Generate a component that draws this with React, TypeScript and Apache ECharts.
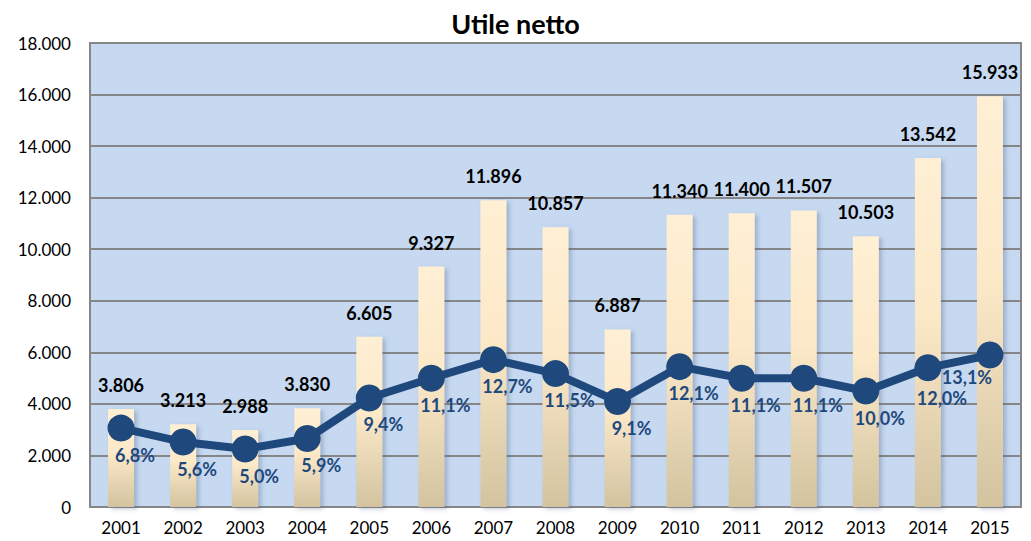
import React, { useEffect, useRef } from "react";
import * as echarts from "echarts";

const years = ["2001","2002","2003","2004","2005","2006","2007","2008","2009","2010","2011","2012","2013","2014","2015"];
const netProfit = [3806, 3213, 2988, 3830, 6605, 9327, 11896, 10857, 6887, 11340, 11400, 11507, 10503, 13542, 15933];
const margin = [6.8, 5.6, 5.0, 5.9, 9.4, 11.1, 12.7, 11.5, 9.1, 12.1, 11.1, 11.1, 10.0, 12.0, 13.1];
const yTicks = { min: 0, max: 18000, interval: 2000 };

const FONT = "Lato, 'Noto Sans', sans-serif";

function fmtThousands(v: number): string {
  return String(v).replace(/\B(?=(\d{3})+(?!\d))/g, ".");
}

export default function App() {
  const ref = useRef<HTMLDivElement>(null);
  useEffect(() => {
    if (!ref.current) return;
    const chart = echarts.init(ref.current, null, { renderer: "svg" });
    const last = margin.length - 1;
    const lineData = margin.map((m, i) => ({
      value: m,
      label:
        i === last
          ? { offset: [-23, -5] }
          : i === last - 1
          ? { offset: [14, 4] }
          : { offset: [14, 0] },
    }));
    chart.setOption({
      animation: false,
      backgroundColor: "#ffffff",
      title: {
        text: "Utile netto",
        left: "center",
        top: 5,
        textStyle: { fontFamily: FONT, fontSize: 27, fontWeight: "bold", color: "#000" },
      },
      grid: {
        left: 90,
        right: 10,
        top: 43,
        bottom: 34,
        show: true,
        backgroundColor: "#C6D9F0",
        borderColor: "#868686",
        borderWidth: 2,
      },
      xAxis: {
        type: "category",
        data: years,
        axisLine: { show: true, lineStyle: { color: "#868686", width: 2 } },
        axisTick: { show: false },
        axisLabel: { fontFamily: FONT, fontSize: 17, color: "#000", margin: 12 },
      },
      yAxis: [
        {
          type: "value",
          min: yTicks.min,
          max: yTicks.max,
          interval: yTicks.interval,
          axisLine: { show: true, lineStyle: { color: "#868686", width: 2 } },
          axisTick: { show: false },
          splitLine: { lineStyle: { color: "#868686", width: 2 } },
          axisLabel: {
            fontFamily: FONT,
            fontSize: 17,
            color: "#000",
            margin: 19,
            formatter: (v: number) => fmtThousands(v),
          },
        },
        {
          type: "value",
          min: 0,
          max: 40,
          show: false,
          splitLine: { show: false },
        },
      ],
      series: [
        {
          type: "bar",
          data: netProfit,
          barWidth: 26,
          itemStyle: {
            color: new echarts.graphic.LinearGradient(0, 0, 0, 1, [
              { offset: 0, color: "#FFEFD4" },
              { offset: 0.45, color: "#FCE9C8" },
              { offset: 1, color: "#D3C39F" },
            ]),
            shadowColor: "rgba(80,100,140,0.35)",
            shadowBlur: 4,
            shadowOffsetX: 3,
            shadowOffsetY: 2,
          },
          label: {
            show: true,
            position: "top",
            distance: 15,
            fontFamily: FONT,
            fontSize: 18,
            fontWeight: "bold",
            color: "#000",
            formatter: (p: any) => fmtThousands(p.value),
          },
        },
        {
          type: "line",
          yAxisIndex: 1,
          data: lineData,
          symbol: "circle",
          symbolSize: 27,
          lineStyle: { color: "#1F497D", width: 8 },
          itemStyle: { color: "#1F497D" },
          label: {
            show: true,
            position: "bottom",
            distance: 4,
            fontFamily: FONT,
            fontSize: 18,
            fontWeight: "bold",
            color: "#1F497D",
            formatter: (p: any) => p.value.toFixed(1).replace(".", ",") + "%",
          },
          z: 5,
        },
      ],
    });
    return () => chart.dispose();
  }, []);
  return (
    <div
      ref={ref}
      style={{ position: "absolute", left: 0, top: 0, width: 1031, height: 541 }}
    />
  );
}
